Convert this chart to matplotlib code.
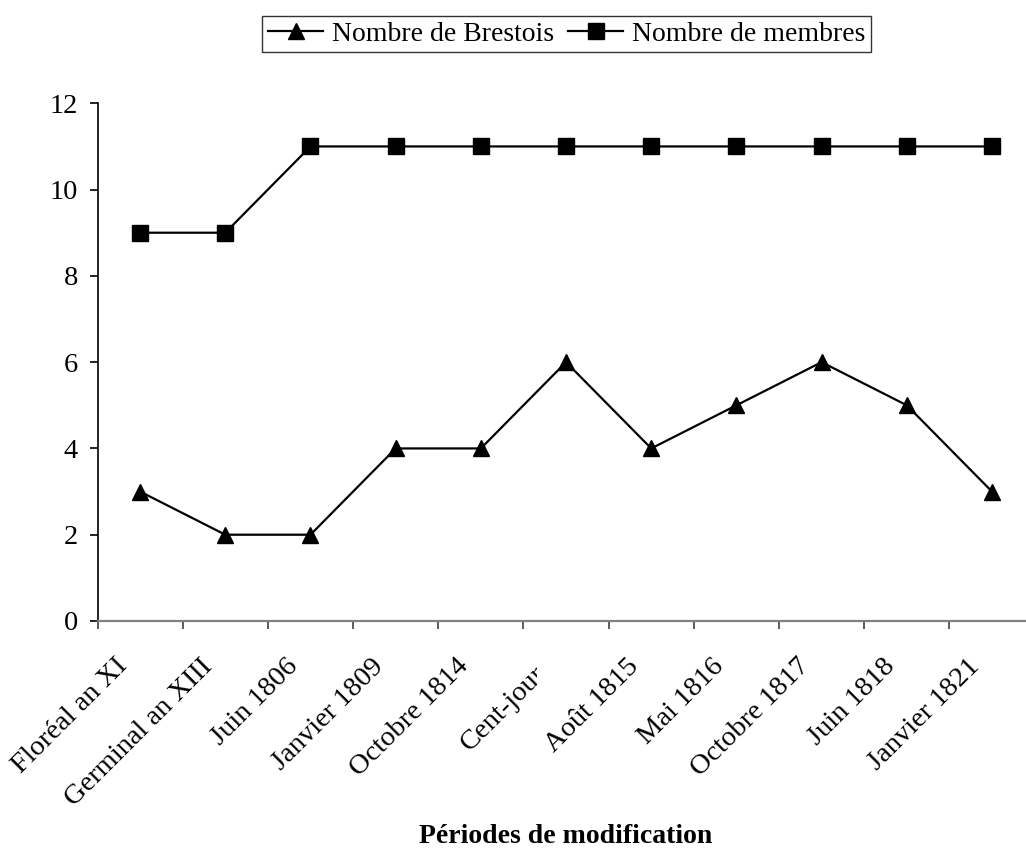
import matplotlib
matplotlib.use("Agg")
import matplotlib.pyplot as plt
from matplotlib.transforms import Bbox, TransformedBbox, ScaledTranslation

categories = ["Floréal an XI", "Germinal an XIII", "Juin 1806", "Janvier 1809",
              "Octobre 1814", "Cent-jours", "Août 1815", "Mai 1816",
              "Octobre 1817", "Juin 1818", "Janvier 1821"]
brestois = [3, 2, 2, 4, 4, 6, 4, 5, 6, 5, 3]
membres = [9, 9, 11, 11, 11, 11, 11, 11, 11, 11, 11]
yticks = [0, 2, 4, 6, 8, 10, 12]

plt.rcParams['font.family'] = ['Liberation Serif', 'DejaVu Serif']

W, H = 1026, 848
fig = plt.figure(figsize=(W / 100, H / 100), dpi=100)
left, right = 97.5, 1034.6
top, bottom = 103.3, 621.0
ax = fig.add_axes([left / W, (H - bottom) / H, (right - left) / W, (bottom - top) / H])

x = list(range(len(categories)))
ax.plot(x, brestois, color='black', lw=1.6, marker='^', ms=12,
        label='Nombre de Brestois', zorder=3)
ax.plot(x, membres, color='black', lw=1.6, marker='s', ms=11.5,
        label='Nombre de membres', zorder=3)

ax.set_xlim(-0.5, len(categories) - 0.5)
ax.set_ylim(0, 12)
ax.set_yticks(yticks)
ax.set_yticklabels([str(v) for v in yticks], fontsize=20.5)

ax.set_xticks([i + 0.5 for i in range(-1, len(categories))], minor=False)
ax.set_xticklabels([])
ax.set_xticks(x, minor=True)
ax.set_xticklabels(categories, minor=True, rotation=45, ha='right', va='center',
                   rotation_mode='anchor', fontsize=20.5)
ax.tick_params(axis='x', which='major', direction='out', length=6, width=1.2,
               color='#404040')
ax.tick_params(axis='x', which='minor', length=0, pad=30)
ax.tick_params(axis='y', direction='out', length=6, width=1.2, pad=8)

for s in ['top', 'right']:
    ax.spines[s].set_visible(False)
ax.spines['left'].set_color('black')
ax.spines['left'].set_linewidth(1.2)
ax.spines['bottom'].set_color('#808080')
ax.spines['bottom'].set_linewidth(1.6)

shift = ScaledTranslation(-16 / 100, 0, fig.dpi_scale_trans)
# the "Cent-jours" label is clipped in the reference
clip = TransformedBbox(Bbox([[0, 0], [537 / W, 1]]), fig.transFigure)
for lab in ax.get_xticklabels(minor=True):
    lab.set_transform(lab.get_transform() + shift)
    if lab.get_text() == "Cent-jours":
        lab.set_clip_box(clip)
        lab.set_clip_on(True)

ax.set_xlabel("Périodes de modification", fontsize=20, fontweight='bold')
ax.xaxis.set_label_coords((566 - left) / (right - left), -(824 - bottom) / (bottom - top))

leg = fig.legend(loc='center', bbox_to_anchor=(566.5 / W, (H - 34) / H), ncol=2,
                 fontsize=20, frameon=True, fancybox=False, edgecolor='black',
                 handlelength=2.0, handletextpad=0.3, columnspacing=0.5,
                 borderpad=0.2, borderaxespad=0)
leg.get_frame().set_linewidth(1.0)

fig.savefig("out.png", dpi=100)
